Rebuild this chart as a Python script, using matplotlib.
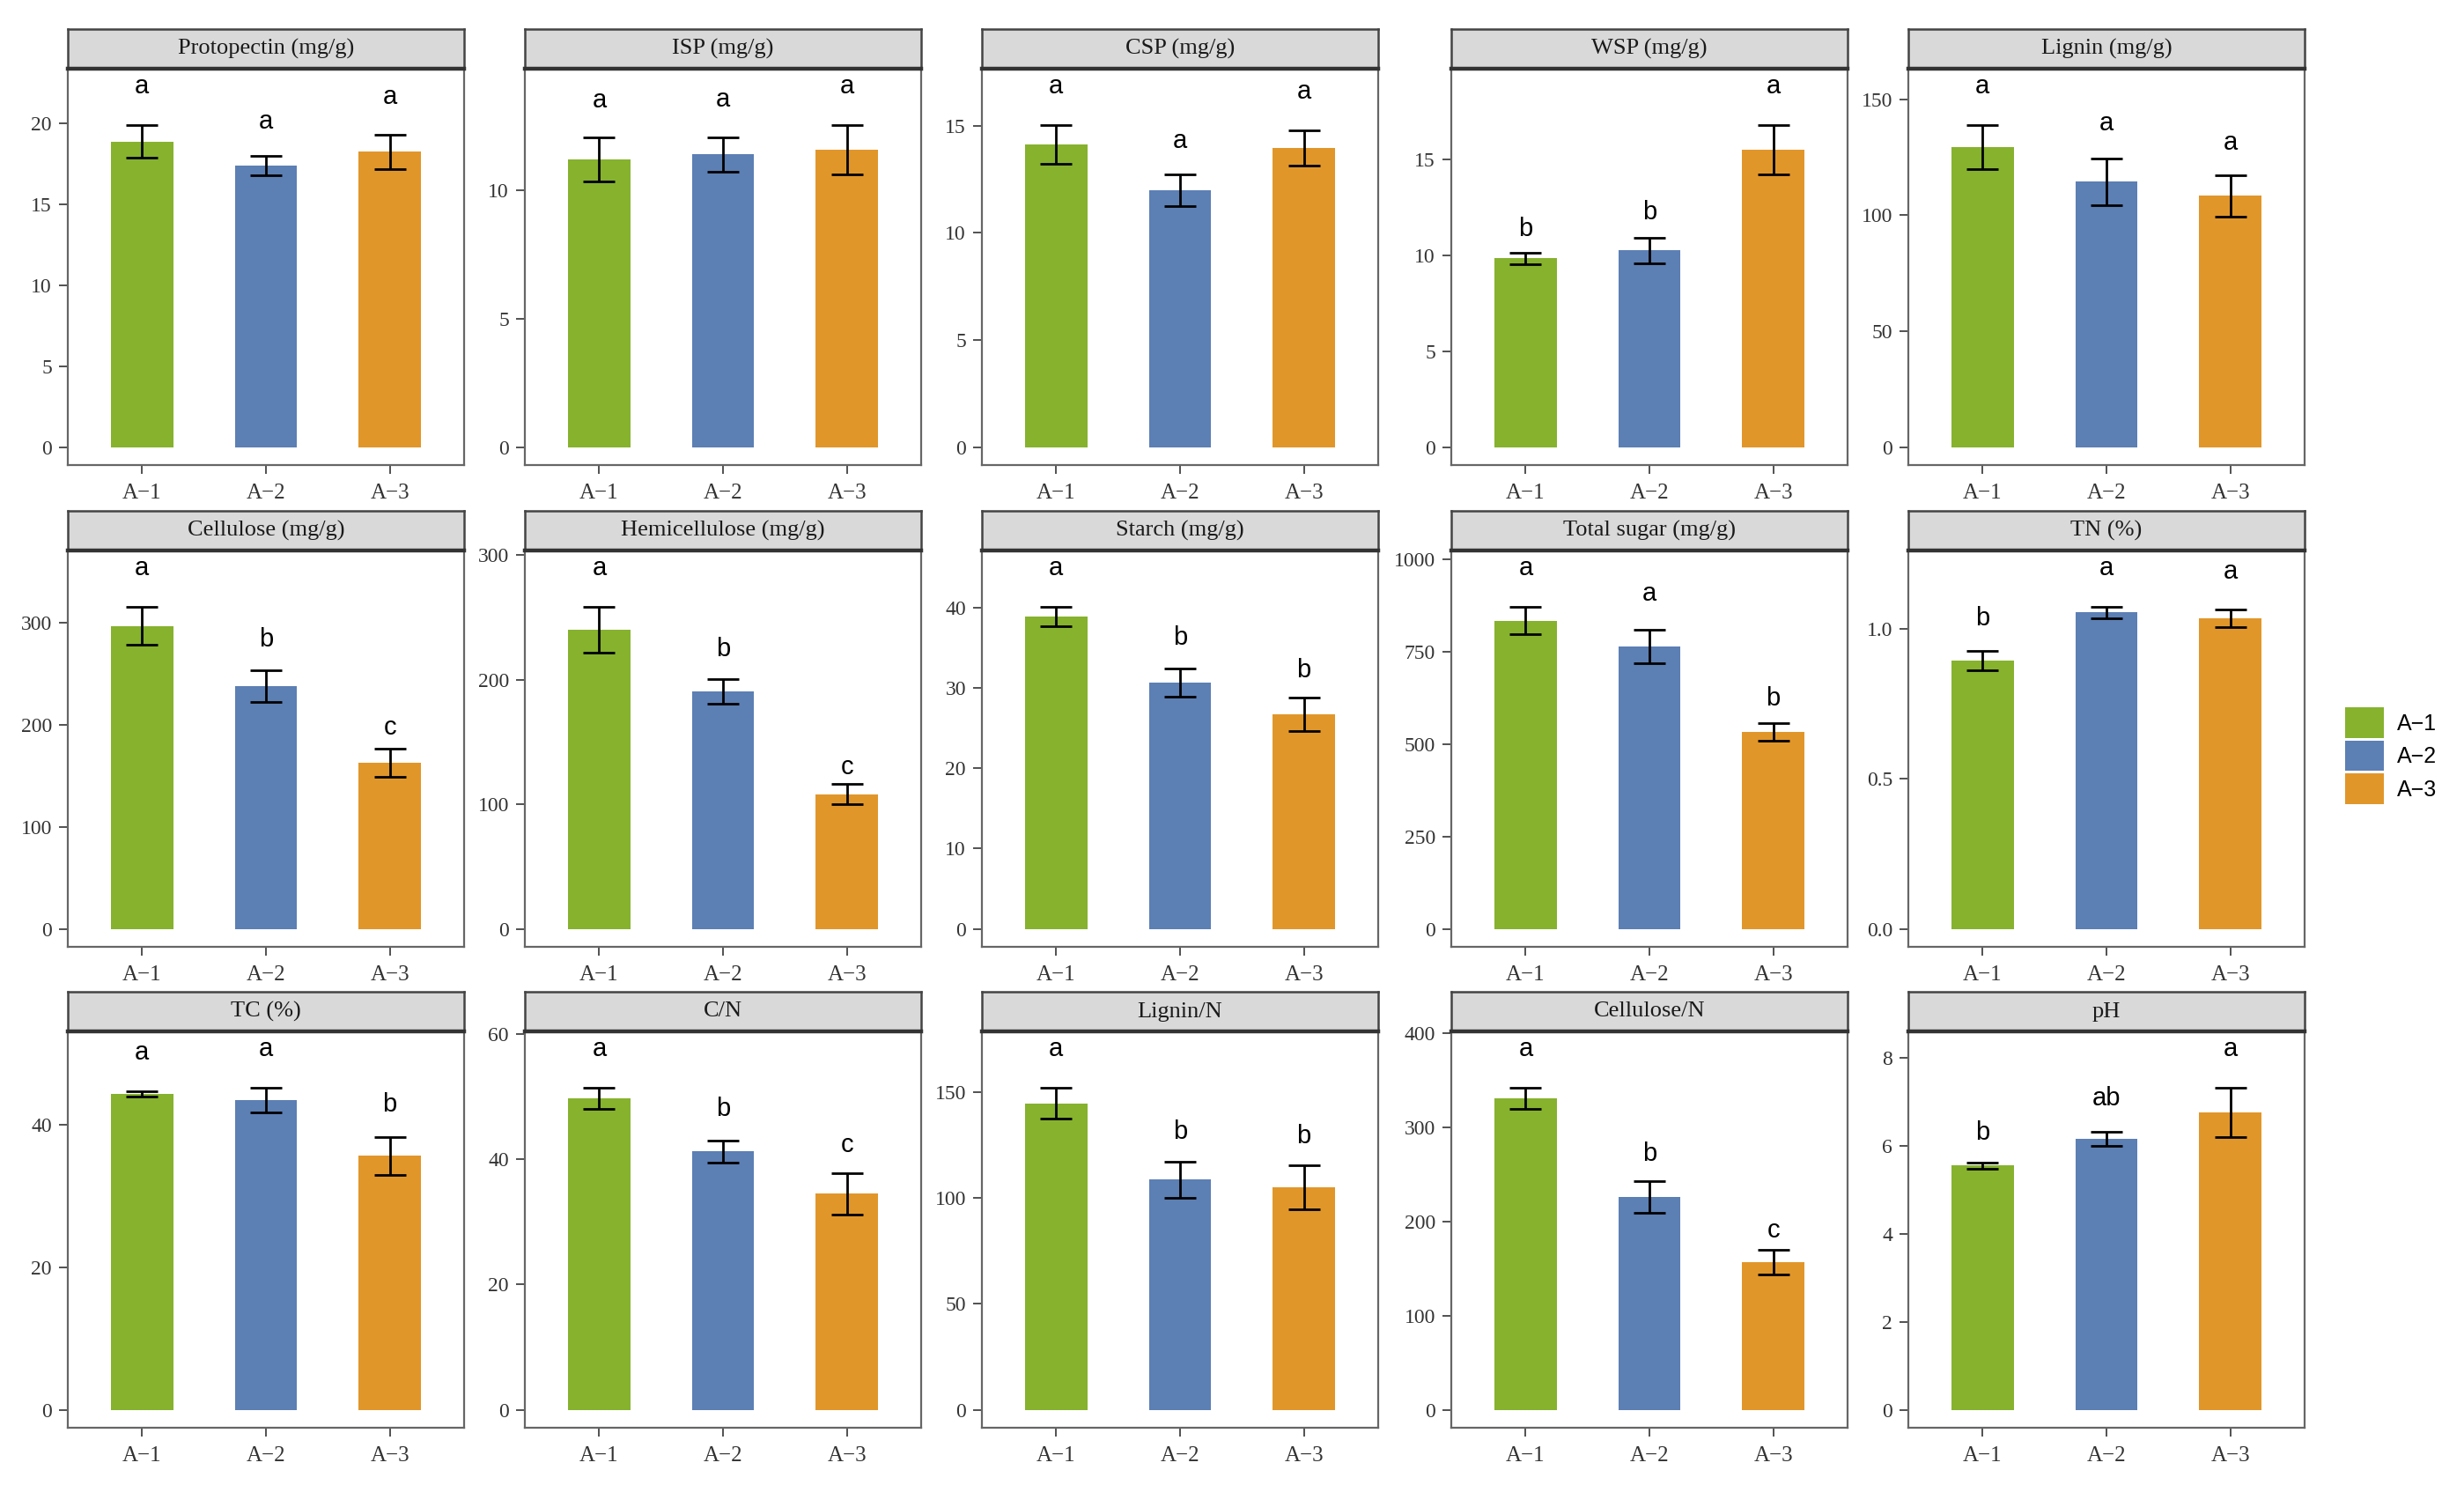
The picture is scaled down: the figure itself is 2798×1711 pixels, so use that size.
import numpy as np
import matplotlib
matplotlib.use("Agg")
import matplotlib.pyplot as plt
from matplotlib.patches import Patch
from matplotlib.ticker import MultipleLocator, FormatStrFormatter

groups = ["A\u22121", "A\u22122", "A\u22123"]
colors = ["#86B22E", "#5C7FB4", "#E1962A"]

titles = ["Protopectin (mg/g)", "ISP (mg/g)", "CSP (mg/g)", "WSP (mg/g)", "Lignin (mg/g)",
          "Cellulose (mg/g)", "Hemicellulose (mg/g)", "Starch (mg/g)", "Total sugar (mg/g)", "TN (%)",
          "TC (%)", "C/N", "Lignin/N", "Cellulose/N", "pH"]

protopectin = [18.86, 17.37, 18.22]
protopectin_se = [1.00, 0.59, 1.07]
isp = [11.21, 11.40, 11.58]
isp_se = [0.85, 0.67, 0.95]
csp = [14.11, 11.99, 13.96]
csp_se = [0.90, 0.75, 0.83]
wsp = [9.84, 10.26, 15.52]
wsp_se = [0.30, 0.66, 1.27]
lignin = [129.3, 114.4, 108.4]
lignin_se = [9.5, 10.2, 9.0]
cellulose = [296.9, 238.0, 162.9]
cellulose_se = [18.6, 15.3, 13.5]
hemicellulose = [239.8, 190.5, 108.0]
hemicellulose_se = [18.3, 9.8, 8.1]
starch = [38.9, 30.65, 26.7]
starch_se = [1.2, 1.75, 2.1]
total_sugar = [834.0, 764.6, 532.7]
total_sugar_se = [37.0, 46.0, 24.5]
tn = [0.893, 1.054, 1.034]
tn_se = [0.032, 0.018, 0.030]
tc = [44.35, 43.44, 35.6]
tc_se = [0.35, 1.7, 2.6]
cn = [49.7, 41.24, 34.49]
cn_se = [1.7, 1.72, 3.3]
lignin_n = [144.5, 108.6, 104.95]
lignin_n_se = [7.3, 8.5, 10.2]
cellulose_n = [330.6, 225.7, 156.6]
cellulose_n_se = [11.0, 17.0, 13.0]
ph = [5.547, 6.148, 6.749]
ph_se = [0.07, 0.16, 0.56]

letters = [["a", "a", "a"], ["a", "a", "a"], ["a", "a", "a"], ["b", "b", "a"], ["a", "a", "a"],
           ["a", "b", "c"], ["a", "b", "c"], ["a", "b", "b"], ["a", "a", "b"], ["b", "a", "a"],
           ["a", "a", "b"], ["a", "b", "c"], ["a", "b", "b"], ["a", "b", "c"], ["b", "ab", "a"]]

tick_steps = [5, 5, 5, 5, 50, 100, 100, 10, 250, 0.5, 20, 20, 50, 100, 2]

means = [protopectin, isp, csp, wsp, lignin, cellulose, hemicellulose, starch, total_sugar, tn,
         tc, cn, lignin_n, cellulose_n, ph]
ses = [protopectin_se, isp_se, csp_se, wsp_se, lignin_se, cellulose_se, hemicellulose_se, starch_se,
       total_sugar_se, tn_se, tc_se, cn_se, lignin_n_se, cellulose_n_se, ph_se]

W, H = 2798, 1711
fig = plt.figure(figsize=(W / 200, H / 200), dpi=200)

serif = "Liberation Serif"
sans = "Liberation Sans"

# panel layout in pixels
col_left = [77, 596, 1115, 1648, 2167]
row_top = [78, 625, 1171]
pw, ph_px, sh = 450, 450, 45

x = np.arange(3)
for i, title in enumerate(titles):
    r, c = divmod(i, 5)
    left = col_left[c] / W
    bottom = 1 - (row_top[r] + ph_px) / H
    ax = fig.add_axes([left, bottom, pw / W, ph_px / H])

    m = np.array(means[i])
    s = np.array(ses[i])
    lab_y = (m + s) * 1.12
    top = lab_y.max()

    ax.bar(x, m, width=0.5, color=colors, zorder=2)
    ax.errorbar(x, m, yerr=s, fmt="none", ecolor="black", elinewidth=1.0,
                capsize=6.5, capthick=1.0, zorder=3)
    for xi, yi, t in zip(x, lab_y, letters[i]):
        ax.text(xi, yi, t, ha="center", va="center", fontsize=10.5, family=sans, color="black")

    ax.set_xlim(-0.6, 2.6)
    ax.set_ylim(-0.05 * top, 1.05 * top)
    ax.yaxis.set_major_locator(MultipleLocator(tick_steps[i]))
    if tick_steps[i] < 1:
        ax.yaxis.set_major_formatter(FormatStrFormatter("%.1f"))
    else:
        ax.yaxis.set_major_formatter(FormatStrFormatter("%d"))
    ax.set_xticks(x)
    ax.set_xticklabels(groups)
    ax.tick_params(axis="both", length=3.5, width=0.6, color="#333333",
                   labelcolor="#333333", labelsize=8.5, pad=3)
    for lbl in ax.get_xticklabels() + ax.get_yticklabels():
        lbl.set_family(serif)
    ax.tick_params(axis="x", labelsize=9, pad=4)
    for sp in ax.spines.values():
        sp.set_color("#666666")
        sp.set_linewidth(0.8)

    # facet strip
    sax = fig.add_axes([left, 1 - row_top[r] / H, pw / W, sh / H])
    sax.set_facecolor("#D9D9D9")
    sax.set_xticks([])
    sax.set_yticks([])
    for sp in sax.spines.values():
        sp.set_color("#444444")
        sp.set_linewidth(0.9)
    sax.spines["bottom"].set_linewidth(1.6)
    sax.spines["bottom"].set_color("#333333")
    sax.text(0.5, 0.5, title, ha="center", va="center", fontsize=9.5,
             family=serif, color="#1A1A1A", transform=sax.transAxes)

handles = [Patch(facecolor=col, edgecolor="none") for col in colors]
fig.legend(handles, groups, loc="center left", bbox_to_anchor=(2663 / W, 1 - 858 / H),
           frameon=False, prop={"family": sans, "size": 9},
           handlelength=1.75, handleheight=1.75, labelspacing=0.12, handletextpad=0.6,
           borderpad=0, borderaxespad=0)

fig.savefig("out.png", dpi=200, facecolor="white")
